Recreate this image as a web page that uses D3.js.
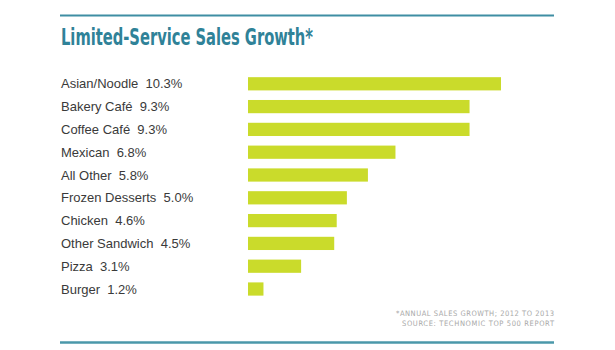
<!DOCTYPE html>
<html>
<head>
<meta charset="utf-8">
<script src="https://d3js.org/d3.v7.min.js"></script>
<style>
  body { margin: 0; background: #fff; }
</style>
</head>
<body>
<svg class="chart"></svg>
<script>
var categories = ["Asian/Noodle", "Bakery Café", "Coffee Café", "Mexican", "All Other",
                  "Frozen Desserts", "Chicken", "Other Sandwich", "Pizza", "Burger"];
var growth = [10.3, 9.3, 9.3, 6.8, 5.8, 5.0, 4.6, 4.5, 3.1, 1.2];
var titleText = "Limited-Service Sales Growth*";
var notes = ["*ANNUAL SALES GROWTH; 2012 TO 2013", "SOURCE: TECHNOMIC TOP 500 REPORT"];
var noteWidths = [158, 152];

var svgWidth = 615, svgHeight = 350,
    left = 60, right = 554;

var teal = "#2f8298", lime = "#cadb2b";

var svg = d3.select(".chart")
    .attr("width", svgWidth)
    .attr("height", svgHeight);

var rows = categories.map((c, i) => ({cat: c, val: growth[i]}));

// the bars are drawn a bit non-linearly in the original, a power scale gets close
var xScale = d3.scalePow().exponent(1.3).domain([0, 10.3]).range([248, 501]);
var yScale = d3.scaleBand().domain(categories).range([67.6, 305.2]).padding(0.42);

// rules
svg.append("line")
    .attr("x1", left).attr("x2", right)
    .attr("y1", 15.5).attr("y2", 15.5)
    .attr("stroke", "#3f8ea3").attr("stroke-width", 2);

svg.append("line")
    .attr("x1", left).attr("x2", right)
    .attr("y1", 342.5).attr("y2", 342.5)
    .attr("stroke", "#4b98aa").attr("stroke-width", 2.5);

// title
svg.append("text")
    .attr("x", left + 1).attr("y", 44.5)
    .attr("font-family", "'Liberation Sans Narrow', 'DejaVu Sans Condensed', 'Liberation Sans', sans-serif")
    .attr("font-weight", "bold")
    .attr("font-size", 23.5)
    .attr("fill", teal)
    .attr("textLength", 252)
    .attr("lengthAdjust", "spacingAndGlyphs")
    .text(titleText);

// bars
svg.selectAll(".bar")
    .data(rows).enter().append("rect")
        .attr("class", "bar")
        .attr("x", xScale(0))
        .attr("y", d => yScale(d.cat))
        .attr("width", d => xScale(d.val) - xScale(0))
        .attr("height", yScale.bandwidth())
        .attr("fill", lime);

// labels
svg.selectAll(".label")
    .data(rows).enter().append("text")
        .attr("class", "label")
        .attr("x", 61)
        .attr("y", d => yScale(d.cat) + yScale.bandwidth() / 2)
        .attr("dy", "0.35em")
        .attr("font-family", "'Liberation Sans', Arial, sans-serif")
        .attr("font-size", 13)
        .attr("fill", "#3a3a3a")
        .text(d => d.cat + "\u00a0 " + d.val.toFixed(1) + "%");

// footnote
svg.selectAll(".note")
    .data(notes).enter().append("text")
        .attr("class", "note")
        .attr("x", right)
        .attr("y", (d, i) => 316.3 + i * 9.8)
        .attr("text-anchor", "end")
        .attr("font-family", "'Liberation Sans Narrow', 'DejaVu Sans Condensed', sans-serif")
        .attr("font-size", 7.5)
        .attr("textLength", (d, i) => noteWidths[i])
        .attr("lengthAdjust", "spacing")
        .attr("fill", "#a8a8a8")
        .text(d => d);
</script>
</body>
</html>
